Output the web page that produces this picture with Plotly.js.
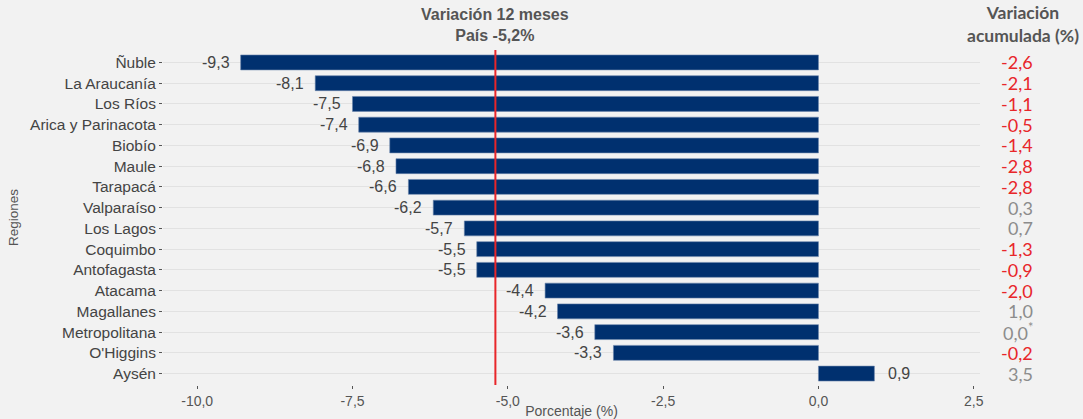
<!DOCTYPE html>
<html>
<head>
<meta charset="utf-8">
<script src="https://cdn.plot.ly/plotly-3.0.1.min.js"></script>
<style>html,body{margin:0;padding:0;background:#f2f2f2;}#chart{width:1083px;height:419px;}</style>
</head>
<body>
<div id="chart"></div>
<script>
var regions = ['Ñuble','La Araucanía','Los Ríos','Arica y Parinacota','Biobío','Maule','Tarapacá','Valparaíso','Los Lagos','Coquimbo','Antofagasta','Atacama','Magallanes','Metropolitana',"O'Higgins",'Aysén'];
var variacion12 = [-9.3,-8.1,-7.5,-7.4,-6.9,-6.8,-6.6,-6.2,-5.7,-5.5,-5.5,-4.4,-4.2,-3.6,-3.3,0.9];
var acumulada = [-2.6,-2.1,-1.1,-0.5,-1.4,-2.8,-2.8,0.3,0.7,-1.3,-0.9,-2.0,1.0,0.0,-0.2,3.5];
var acumNota = ['','','','','','','','','','','','','','*','',''];
var pais = -5.2;
var xTicks = [-10,-7.5,-5,-2.5,0,2.5];

function fmt(v){ return v.toFixed(1).replace('.',','); }

var SANS = '"Liberation Sans", Arial, sans-serif';

var bar = {
  type:'bar', orientation:'h',
  x: variacion12, y: regions,
  marker:{color:'#00306f', line:{color:'#6a84ab', width:0.6}},
  width:0.72,
  hoverinfo:'none'
};

var annotations = [
  {xref:'x', yref:'paper', x:pais, y:1, yanchor:'bottom', yshift:4, showarrow:false,
   text:'<b>Variación 12 meses<br>País '+fmt(pais)+'%</b>',
   font:{family:SANS, size:16, color:'#555555'}},
  {xref:'paper', yref:'paper', x:1.0, y:1, xanchor:'left', xshift:-15, yanchor:'bottom', yshift:2, showarrow:false,
   text:'<b>Variación<br>acumulada (%)</b>', align:'center',
   font:{family:'Lato, sans-serif', size:17.5, color:'#555555'}}
];
regions.forEach(function(r,i){
  var v = variacion12[i];
  annotations.push({
    xref:'x', yref:'y', x:v, y:r, showarrow:false,
    xanchor: v < 0 ? 'right' : 'left', xshift: v < 0 ? -9 : 12,
    text: fmt(v),
    font:{family:SANS, size:16, color:'#444444'}
  });
});
regions.forEach(function(r,i){
  var v = acumulada[i];
  annotations.push({
    xref:'paper', yref:'y', x:1.067, y:r, showarrow:false, yshift:0,
    text: fmt(v) + (acumNota[i] ? '<sup>'+acumNota[i]+'</sup>' : ''),
    font:{family:'Lato, sans-serif', size:18, color: v < 0 ? '#e8262a' : '#8c8c8c'}
  });
});

var layout = {
  width:1083, height:419,
  paper_bgcolor:'#f2f2f2', plot_bgcolor:'#f2f2f2',
  separators:',.',
  margin:{l:163, r:103, t:50, b:34},
  showlegend:false,
  font:{family:SANS, color:'#555555'},
  xaxis:{
    range:[-10.55, 2.6], tickvals:xTicks, ticktext:xTicks.map(fmt),
    showgrid:false, zeroline:false, showline:false,
    ticks:'outside', ticklen:3, tickcolor:'#555555',
    tickfont:{size:14, color:'#555555'},
    title:{text:'Porcentaje (%)', font:{size:14, color:'#555555'}, standoff:0}
  },
  yaxis:{
    type:'category', autorange:false, range:[15.55,-0.6],
    showgrid:true, gridcolor:'#e2e2e2', gridwidth:1, zeroline:false, showline:false,
    ticks:'outside', ticklen:3, tickcolor:'#555555',
    tickfont:{size:15.5, color:'#444444'},
    title:{text:'Regiones', font:{size:13.5, color:'#555555'}, standoff:8}
  },
  shapes:[{type:'line', xref:'x', yref:'paper', x0:pais, x1:pais, y0:0, y1:1, line:{color:'#e8262a', width:2}}],
  annotations:annotations
};

Plotly.newPlot('chart',[bar],layout,{displayModeBar:false, staticPlot:true});
</script>
</body>
</html>
